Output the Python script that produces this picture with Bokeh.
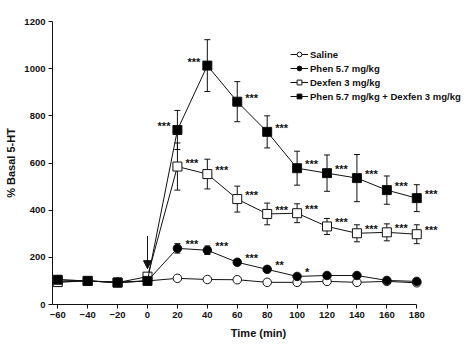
from bokeh.plotting import figure
from bokeh.models import Range1d, FixedTicker, Whisker, TeeHead, Arrow, NormalHead, ColumnDataSource, Legend, LegendItem
from bokeh.core.properties import value
from bokeh.embed import file_html
from bokeh.resources import INLINE

time = [-60, -40, -20, 0, 20, 40, 60, 80, 100, 120, 140, 160, 180]

saline = [95, 100, 93, 100, 111, 106, 105, 94, 94, 98, 94, 98, 92]
saline_sem = [6, 5, 5, 5, 6, 6, 5, 5, 5, 5, 5, 5, 5]

phen = [105, 100, 95, 100, 238, 230, 179, 149, 119, 123, 123, 102, 98]
phen_sem = [8, 6, 6, 6, 20, 18, 12, 8, 6, 6, 6, 6, 6]

dexfen = [95, 100, 93, 118, 585, 553, 447, 384, 387, 331, 302, 306, 298]
dexfen_sem = [10, 8, 8, 10, 100, 63, 55, 46, 40, 34, 36, 36, 40]

combo = [105, 100, 93, 100, 740, 1013, 860, 732, 578, 557, 536, 485, 451]
combo_sem = [10, 8, 6, 8, 83, 110, 85, 68, 72, 77, 100, 60, 57]

labels = ["Saline", "Phen 5.7 mg/kg", "Dexfen 3 mg/kg", "Phen 5.7 mg/kg + Dexfen 3 mg/kg"]

# significance marks: (series, time index, text, side)
combo_stars = ["***"] * 9
combo_star_idx = [4, 5, 6, 7, 8, 9, 10, 11, 12]
combo_star_side = ["L", "L", "R", "R", "R", "R", "R", "R", "R"]
dexfen_stars = ["***"] * 9
dexfen_star_idx = [4, 5, 6, 7, 8, 9, 10, 11, 12]
dexfen_star_side = ["R"] * 9
phen_stars = ["***", "***", "***", "**", "*"]
phen_star_idx = [4, 5, 6, 7, 8]
phen_star_side = ["R"] * 5

x_ticks = [-60, -40, -20, 0, 20, 40, 60, 80, 100, 120, 140, 160, 180]
y_ticks = [0, 200, 400, 600, 800, 1000, 1200]
injection_time = 0
arrow_from, arrow_to = 290, 152

FONT = "Liberation Sans"
INK = "#111111"

p = figure(width=466, height=344, output_backend="svg", toolbar_location=None,
           x_range=Range1d(-63.5, 211.9), y_range=Range1d(0, 1200),
           min_border_left=52, min_border_right=2, min_border_top=21, min_border_bottom=40)
p.outline_line_color = None
p.grid.visible = False
p.background_fill_color = "white"

for ax in (p.xaxis[0], p.yaxis[0]):
    ax.major_tick_in = 0
    ax.major_tick_out = 4
    ax.minor_tick_out = 0
    ax.minor_tick_in = 0
    ax.axis_line_color = INK
    ax.major_tick_line_color = INK
    ax.major_label_text_font = FONT
    ax.major_label_text_font_style = "bold"
    ax.major_label_text_font_size = "9.5px"
    ax.major_label_text_color = INK
    ax.axis_label_text_font = FONT
    ax.axis_label_text_font_style = "bold"
    ax.axis_label_text_font_size = "11px"
    ax.axis_label_text_color = INK
    ax.major_label_standoff = 3

p.xaxis.ticker = FixedTicker(ticks=x_ticks)
p.yaxis.ticker = FixedTicker(ticks=y_ticks)
p.xaxis.bounds = (-63.5, 180)
p.yaxis.bounds = (0, 1200)
p.xaxis.axis_label = "Time (min)"
p.yaxis.axis_label = "% Basal 5-HT"
p.xaxis.axis_label_standoff = 6
p.yaxis.axis_label_standoff = 4

series = [
    (saline, saline_sem, "circle", "white"),
    (phen, phen_sem, "circle", "black"),
    (dexfen, dexfen_sem, "square", "white"),
    (combo, combo_sem, "square", "black"),
]

items = []
for (vals, sem, marker, fill), lab in zip(series, labels):
    src = ColumnDataSource(dict(t=time, v=vals,
                                up=[v + s for v, s in zip(vals, sem)],
                                lo=[v - s for v, s in zip(vals, sem)]))
    w = Whisker(base="t", upper="up", lower="lo", source=src, line_color=INK, line_width=1,
                upper_head=TeeHead(size=6, line_color=INK, line_width=1),
                lower_head=TeeHead(size=6, line_color=INK, line_width=1))
    p.add_layout(w)
    lr = p.line("t", "v", source=src, line_color=INK, line_width=1)
    sr = p.scatter("t", "v", source=src, marker=marker, size=9 if marker == "square" else 8.5,
                   fill_color=fill, line_color=INK, line_width=1)
    items.append(LegendItem(label=lab, renderers=[lr, sr]))


def stars(vals, idx, txt, side, want):
    keep = [k for k, s in enumerate(side) if s == want]
    return ColumnDataSource(dict(x=[time[idx[k]] for k in keep], y=[vals[idx[k]] for k in keep],
                                 text=[txt[k] for k in keep]))


for vals, idx, txt, side in [(combo, combo_star_idx, combo_stars, combo_star_side),
                             (dexfen, dexfen_star_idx, dexfen_stars, dexfen_star_side),
                             (phen, phen_star_idx, phen_stars, phen_star_side)]:
    for want, align, xo in (("L", "right", -7), ("R", "left", 8)):
        p.text("x", "y", text="text", source=stars(vals, idx, txt, side, want), x_offset=xo, y_offset=-4,
               text_align=align, text_baseline="middle", text_font=value(FONT),
               text_font_style="bold", text_font_size="11px", text_color=INK)

p.add_layout(Arrow(x_start=injection_time, y_start=arrow_from, x_end=injection_time, y_end=arrow_to,
                   line_color=INK, line_width=1,
                   end=NormalHead(size=8, fill_color=INK, line_color=INK)))

legend = Legend(items=items, location=(238, 202), background_fill_alpha=0, border_line_color=None,
                label_text_font=FONT, label_text_font_style="bold", label_text_font_size="9.5px",
                label_text_color=INK, glyph_width=18, glyph_height=12, label_height=12,
                label_standoff=2, spacing=2, padding=0, margin=0)
p.add_layout(legend, "center")

open("out.html", "w").write(file_html(p, INLINE))
